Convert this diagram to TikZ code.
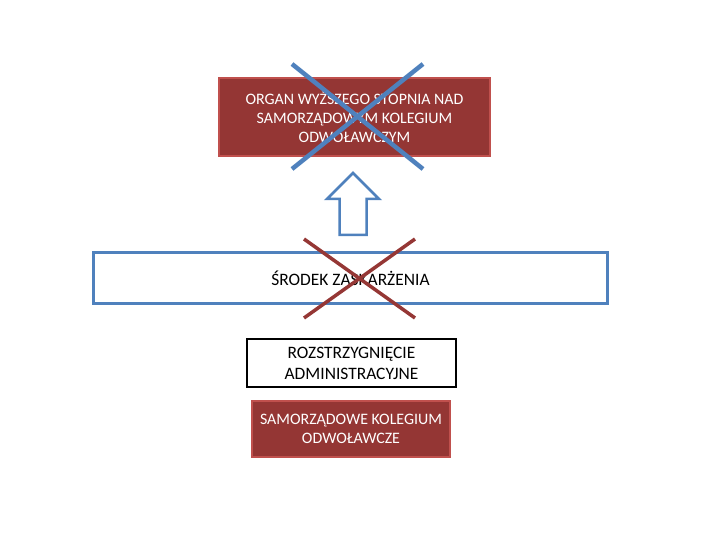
\documentclass[tikz,border=0pt]{standalone}
\usepackage{fontspec}
\setmainfont{Carlito}
\usetikzlibrary{positioning}
\definecolor{kolred}{HTML}{943634}
\definecolor{kolrededge}{HTML}{C0504D}
\definecolor{kolblue}{HTML}{4F81BD}
\definecolor{crossred}{HTML}{953735}

\begin{document}
\begin{tikzpicture}[x=1bp,y=-1bp,
   every node/.style={align=center, inner sep=0pt},
   redbox/.style={draw=kolrededge, fill=kolred, text=white, line width=2.5bp,
      font=\fontsize{16}{19.5}\selectfont},
   bluebox/.style={draw=kolblue, line width=3bp, font=\fontsize{17.5}{21}\selectfont},
   blackbox/.style={draw=black, line width=2.5bp, font=\fontsize{17.5}{21}\selectfont},
   bluecross/.style={draw=kolblue, line width=4.5bp},
   redcross/.style={draw=crossred, line width=3.5bp}]
   \useasboundingbox (0,0) rectangle (720,540);

   % boxes
   \node[redbox, minimum width=271bp, minimum height=78bp] (organ) at (354.5,117)
      {ORGAN WYŻSZEGO STOPNIA NAD\\SAMORZĄDOWYM KOLEGIUM\\ODWOŁAWCZYM};
   \node[bluebox, minimum width=513bp, minimum height=50bp] (srodek) at (350.5,278)
      {ŚRODEK ZASKARŻENIA};
   \node[blackbox, minimum width=209bp, minimum height=48bp] (rozstrz) at (351.5,363)
      {ROZSTRZYGNIĘCIE\\ADMINISTRACYJNE};
   \node[redbox, minimum width=198bp, minimum height=56bp] (sko) at (351,429)
      {SAMORZĄDOWE KOLEGIUM\\ODWOŁAWCZE};

   % hollow arrow
   \draw[kolblue, line width=2.5bp, line join=miter]
      (353,173) -- (379,199) -- (366.5,199) -- (366.5,235) -- (339.5,235)
      -- (339.5,199) -- (327,199) -- cycle;

   % crosses
   \coordinate (b1) at (292,64);  \coordinate (b2) at (423,169);
   \coordinate (b3) at (423,64);  \coordinate (b4) at (292,169);
   \draw[bluecross] (b1) -- (b2);
   \draw[bluecross] (b3) -- (b4);

   \coordinate (r1) at (304,239); \coordinate (r2) at (415,318);
   \coordinate (r3) at (415,239); \coordinate (r4) at (304,318);
   \draw[redcross] (r1) -- (r2);
   \draw[redcross] (r3) -- (r4);
\end{tikzpicture}
\end{document}
